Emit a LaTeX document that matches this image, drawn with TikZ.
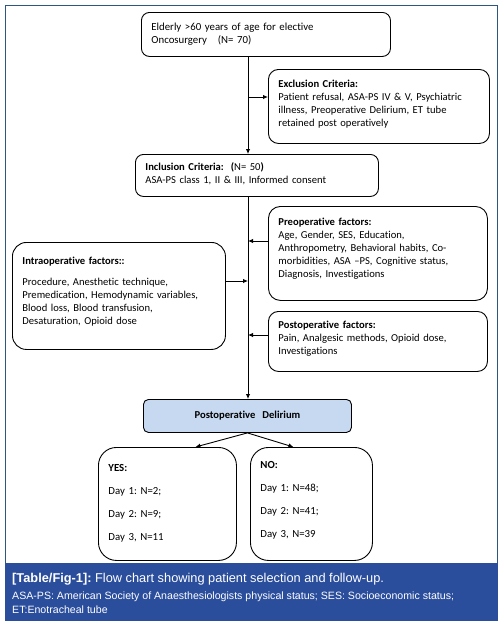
\documentclass[tikz,border=0pt]{standalone}
\usepackage{fontspec}
\setmainfont[Ligatures={NoCommon}]{Carlito}
\newfontfamily\capfont{Liberation Sans}
\usetikzlibrary{arrows.meta}
\definecolor{framec}{HTML}{2E5684}
\definecolor{bandc}{HTML}{2A4D9C}
\definecolor{delc}{HTML}{C6D9F1}
\frenchspacing
\newcommand{\lowpad}[1]{\rule[-#1]{0pt}{#1}}
\begin{document}
\begin{tikzpicture}[x=1pt,y=-1pt,
  box/.style={draw=black, line width=0.9pt, rounded corners=8pt, align=left,
    inner xsep=10pt, inner ysep=0pt, anchor=north west,
    font=\fontsize{10.6}{13}\selectfont},
  arr/.style={line width=0.9pt, -{Latex[length=5pt,width=4.5pt]}},
  captxt/.style={anchor=base west, inner sep=0pt, text=white}
]
\useasboundingbox (0,0) rectangle (502,624);
\fill[white] (0,0) rectangle (502,624);
% frame and caption band
\draw[framec, line width=1pt] (5,563) -- (5,5) -- (497,5) -- (497,563);
\fill[bandc] (4.5,563) rectangle (497.5,621);
\node[captxt, font=\capfont\fontsize{12.8}{14}\selectfont] (cap1) at (12,582)
  {\textbf{[Table/Fig-1]:} Flow chart showing patient selection and follow-up.};
\node[captxt, font=\capfont\fontsize{10.6}{12}\selectfont] (cap2) at (12,599.5)
  {ASA-PS: American Society of Anaesthesiologists physical status; SES: Socioeconomic status;};
\node[captxt, font=\capfont\fontsize{10.6}{12}\selectfont] (cap3) at (12,613.5)
  {ET:Enotracheal tube};

\coordinate (spine) at (248,0);

\node[box, font=\fontsize{10.8}{13}\selectfont, text width=229pt, minimum height=44pt] (eld) at (141,12)
  {Elderly >60 years of age for elective\\Oncosurgery \ \ (N= 70)\lowpad{3pt}};
\node[box, rounded corners=10pt, text width=201pt, minimum height=74pt] (exc) at (268,69)
  {\textbf{Exclusion Criteria:}\\Patient refusal, ASA-PS IV \& V, Psychiatric\\illness, Preoperative Delirium, ET tube\\retained post operatively\lowpad{6pt}};
\node[box, text width=223pt, minimum height=42pt] (inc) at (135,154)
  {\textbf{Inclusion Criteria: \ (}N= 50\textbf{)}\\ASA-PS class 1, II \& III, Informed consent\lowpad{4pt}};
\node[box, rounded corners=12pt, text width=199pt, minimum height=94pt] (pre) at (268,206)
  {\textbf{Preoperative factors:}\\Age, Gender, SES, Education,\\Anthropometry, Behavioral habits, Co-\\morbidities, ASA --PS, Cognitive status,\\Diagnosis, Investigations\lowpad{12pt}};
\node[box, rounded corners=14pt, text width=193pt, minimum height=107pt] (intra) at (12,242)
  {\textbf{Intraoperative factors::}\\[8pt]Procedure, Anesthetic technique,\\Premedication, Hemodynamic variables,\\Blood loss, Blood transfusion,\\Desaturation, Opioid dose\lowpad{10pt}};
\node[box, rounded corners=10pt, text width=199pt, minimum height=60pt] (post) at (268,311)
  {\textbf{Postoperative factors:}\\Pain, Analgesic methods, Opioid dose,\\Investigations\lowpad{8pt}};
\node[box, rounded corners=5pt, fill=delc, align=center, text width=188pt, minimum height=33pt] (del) at (143,399)
  {\textbf{Postoperative \ Delirium}};
\node[box, font=\fontsize{10.8}{13}\selectfont, rounded corners=18pt, text width=118pt, minimum height=113pt] (yes) at (98,447)
  {\textbf{YES:}\\[10pt]Day 1: N=2;\\[10pt]Day 2: N=9;\\[10pt]Day 3, N=11\lowpad{3pt}};
\node[box, font=\fontsize{10.8}{13}\selectfont, rounded corners=18pt, text width=102pt, minimum height=113pt] (no) at (250,447)
  {\textbf{NO:}\\[10pt]Day 1: N=48;\\[10pt]Day 2: N=41;\\[10pt]Day 3, N=39\lowpad{8pt}};

% connectors
\draw[arr] (eld.south -| spine) -- (inc.north -| spine);
\draw[arr] (spine |- 0,97) -- (exc.west |- 0,97);
\draw[arr] (inc.south -| spine) -- (del.north -| spine);
\draw[arr] (pre.west |- 0,241) -- (spine |- 0,241);
\draw[arr] (intra.east |- 0,281) -- (spine |- 0,281);
\draw[arr] (post.west |- 0,335) -- (spine |- 0,335);
\draw[arr] (del.south) -- ([xshift=28pt]yes.north);
\draw[arr] (del.south) -- ([xshift=-18pt]no.north);
\end{tikzpicture}
\end{document}
